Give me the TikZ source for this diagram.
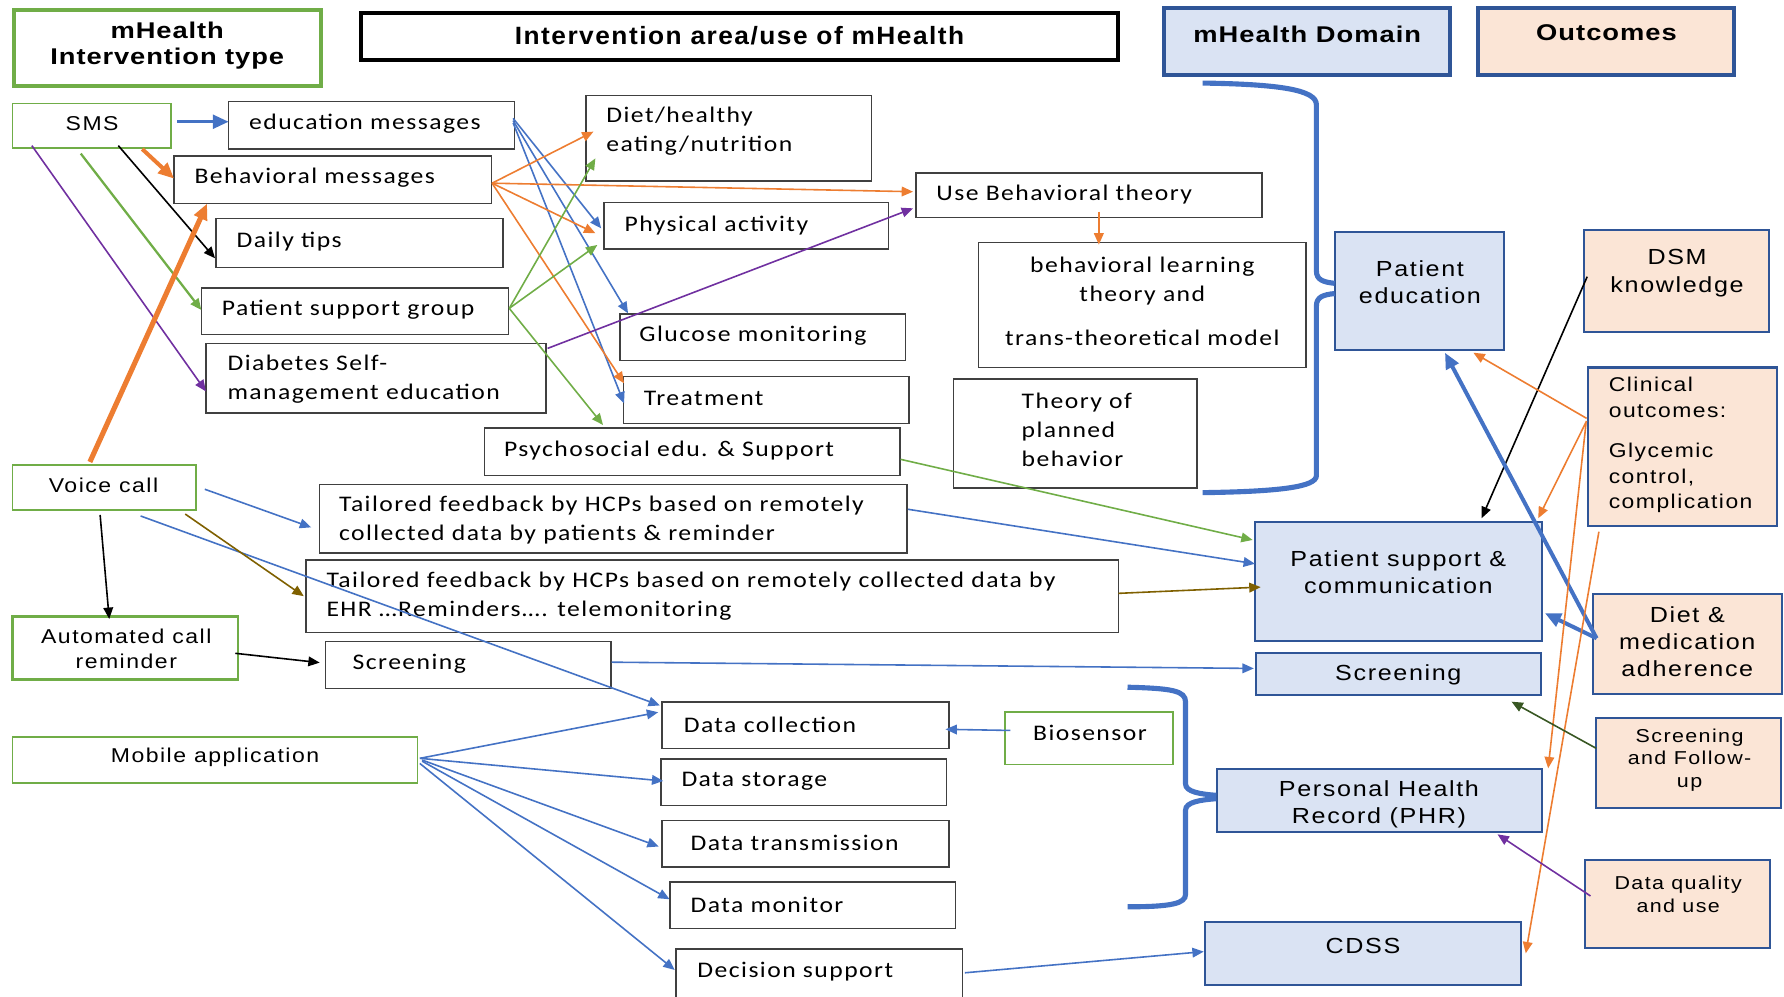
\documentclass[tikz,border=0pt]{standalone}
\usepackage{fontspec}
\usetikzlibrary{arrows.meta,calc}

% Text faces
\newfontfamily\fcal[FakeStretch=1.15,LetterSpace=6.5]{Carlito}
\newfontfamily\fari[FakeStretch=1.15,LetterSpace=7.5]{Liberation Sans}
\newfontfamily\fhdA[FakeStretch=1.2,LetterSpace=4]{Liberation Sans}
\newfontfamily\fhdB[FakeStretch=1.2,LetterSpace=4.5]{Liberation Sans}
\newfontfamily\fhdC[FakeStretch=1.05,LetterSpace=6]{Liberation Sans}

% Palette
\definecolor{cBlue}{HTML}{4472C4}
\definecolor{cOrange}{HTML}{ED7D31}
\definecolor{cGreen}{HTML}{70AD47}
\definecolor{cPurple}{HTML}{7030A0}
\definecolor{cBrown}{HTML}{7F6000}
\definecolor{cDGreen}{HTML}{385723}
\definecolor{cGray}{HTML}{404040}
\definecolor{cDBlue}{HTML}{2F5597}
\definecolor{cDomFill}{HTML}{DAE3F3}
\definecolor{cOutFill}{HTML}{FBE5D6}

% Box from its corners (x1,y1) and (x2,y2), y measured downwards
\newcommand\bx[6]{\node[#1,minimum width={#5pt-#3pt},minimum height={#6pt-#4pt}] (#2) at ({(#3+#5)/2},{(#4+#6)/2}) {};}

\tikzset{
  base/.style={inner sep=0pt,outer sep=0pt},
  midbox/.style={base,draw=cGray,line width=1.3pt,fill=white},
  typebox/.style={base,draw=cGreen,line width=1.5pt,fill=white},
  dombox/.style={base,draw=cDBlue,line width=1.8pt,fill=cDomFill},
  outbox/.style={base,draw=cDBlue,line width=1.8pt,fill=cOutFill},
  hdrgreen/.style={base,draw=cGreen,line width=3.5pt,fill=white},
  hdrblack/.style={base,draw=black,line width=3.5pt,fill=white},
  hdrdom/.style={base,draw=cDBlue,line width=3.5pt,fill=cDomFill},
  hdrout/.style={base,draw=cDBlue,line width=3.5pt,fill=cOutFill},
  tcal/.style={base,anchor=west,align=left,font=\fcal\fontsize{19.6}{25.5}\selectfont},
  tcalc/.style={base,align=center,font=\fcal\fontsize{19.6}{25.5}\selectfont},
  tleft/.style={base,align=center,font=\fari\fontsize{17.6}{22}\selectfont},
  tdom/.style={base,align=center,font=\fari\fontsize{19.2}{24}\selectfont},
  tsmall/.style={base,align=center,font=\fari\fontsize{16.4}{20}\selectfont},
  thA/.style={base,align=center,font=\fhdA\bfseries\fontsize{20}{23}\selectfont},
  thB/.style={base,align=center,font=\fhdB\bfseries\fontsize{20}{23}\selectfont},
  thC/.style={base,align=center,font=\fhdC\bfseries\fontsize{22}{26}\selectfont},
  ln/.style={line width=1.4pt,-{Triangle[length=10pt,width=8.5pt]}},
  lnthick/.style={-{Triangle[length=14pt,width=12pt]}},
  brace/.style={cBlue,line width=4.5pt},
}

\begin{document}
\begin{tikzpicture}[x=1pt,y=-1pt]
\useasboundingbox (0,0) rectangle (1568,876);

% ---------- column headers ----------
\bx{hdrgreen}{hType}{12}{9}{282}{76}
\bx{hdrblack}{hArea}{317}{11}{983}{53}
\bx{hdrdom}{hDom}{1023}{7}{1274}{66}
\bx{hdrout}{hOut}{1299}{7}{1524}{66}
\node[thA] (hType-t) at (147,40) {mHealth\\Intervention type};
\node[thC] (hArea-t) at (650,31) {Intervention area/use of mHealth};
\node[thB] (hDom-t) at (1149,30) {mHealth Domain};
\node[thB] (hOut-t) at (1412,29) {Outcomes};

% ---------- intervention types ----------
\bx{typebox}{sms}{11}{91}{150}{130}
\bx{typebox}{voice}{11}{409}{172}{448}
\bx{typebox,line width=2.2pt}{auto}{11}{542}{209}{597}
\bx{typebox}{mob}{11}{648}{367}{688}
\bx{typebox}{bio}{883}{626}{1031}{672}
\node[tleft] (sms-t) at (81,109) {SMS};
\node[tleft] (voice-t) at (91,427) {Voice call};
\node[tleft] (auto-t) at (111,570) {Automated call\\reminder};
\node[tleft] (mob-t) at (189,666) {Mobile application};
\node[tcalc] (bio-t) at (958,644) {Biosensor};

% ---------- intervention areas ----------
\bx{midbox}{edu}{201}{89}{452}{131}
\bx{midbox}{beh}{153}{137}{432}{179}
\bx{midbox}{tips}{190}{192}{442}{235}
\bx{midbox}{psg}{177}{253}{447}{294}
\bx{midbox}{dsme}{181}{302}{480}{363}
\bx{midbox}{diet}{515}{84}{766}{159}
\bx{midbox}{ubt}{805}{152}{1109}{191}
\bx{midbox}{pa}{531}{178}{781}{219}
\bx{midbox}{blt}{860}{213}{1148}{323}
\bx{midbox}{glu}{545}{276}{796}{317}
\bx{midbox}{tpb}{838}{333}{1052}{429}
\bx{midbox}{treat}{548}{331}{799}{372}
\bx{midbox}{psy}{426}{376}{791}{418}
\bx{midbox}{tf1}{281}{426}{797}{486}
\bx{midbox}{tf2}{269}{492}{983}{556}
\bx{midbox}{scr}{286}{564}{537}{605}
\bx{midbox}{dc}{582}{617}{834}{658}
\bx{midbox}{ds}{581}{667}{832}{708}
\bx{midbox}{dt}{582}{721}{834}{762}
\bx{midbox}{dm}{589}{775}{840}{816}
\bx{midbox}{dsup}{594}{834}{846}{878}

\node[tcal] (edu-t) at (219,109) {education messages};
\node[tcal] (beh-t) at (171,156) {Behavioral messages};
\node[tcal] (tips-t) at (208,212) {Daily tips};
\node[tcal] (psg-t) at (195,272) {Patient support group};
\node[tcal] (dsme-t) at (200,333) {Diabetes Self-\\management education};
\node[tcal] (diet-t) at (533,115) {Diet/healthy\\eating/nutrition};
\node[tcal] (ubt-t) at (823,171) {Use Behavioral theory};
\node[tcal] (pa-t) at (549,198) {Physical activity};
\node[tcalc] (blt-t) at (1004,265) {behavioral learning\\theory and\\[13pt]trans-theoretical model};
\node[tcal] (glu-t) at (562,295) {Glucose monitoring};
\node[tcal] (tpb-t) at (898,378) {Theory of\\planned\\behavior};
\node[tcal] (treat-t) at (566,350) {Treatment};
\node[tcal] (psy-t) at (443,396) {Psychosocial edu. \& Support};
\node[tcal] (tf1-t) at (298,457) {Tailored feedback by HCPs based on remotely\\collected data by patients \& reminder};
\node[tcal] (tf2-t) at (287,524) {Tailored feedback by HCPs based on remotely collected data by\\EHR …Reminders…. telemonitoring};
\node[tcal] (scr-t) at (310,583) {Screening};
\node[tcal] (dc-t) at (601,637) {Data collection};
\node[tcal] (ds-t) at (599,687) {Data storage};
\node[tcal] (dt-t) at (607,741) {Data transmission};
\node[tcal] (dm-t) at (607,795) {Data monitor};
\node[tcal] (dsup-t) at (613,854) {Decision support};

% ---------- mHealth domains ----------
\bx{dombox}{pe}{1173}{204}{1322}{308}
\bx{dombox}{psc}{1103}{459}{1355}{563}
\bx{dombox}{dscr}{1104}{574}{1354}{611}
\bx{dombox}{phr}{1070}{676}{1355}{731}
\bx{dombox}{cdss}{1059}{810}{1337}{866}
\node[tdom] (pe-t) at (1248,248) {Patient\\education};
\node[tdom] (psc-t) at (1229,503) {Patient support \&\\communication};
\node[tdom] (dscr-t) at (1229,593) {Screening};
\node[tdom] (phr-t) at (1212,707) {Personal Health\\Record (PHR)};
\node[tdom] (cdss-t) at (1198,831) {CDSS};

% ---------- outcomes ----------
\bx{outbox}{dsm}{1392}{202}{1555}{292}
\bx{outbox}{clin}{1396}{323}{1562}{462}
\bx{outbox}{dma}{1400}{522}{1566}{610}
\bx{outbox}{sfu}{1403}{631}{1565}{710}
\bx{outbox}{dq}{1393}{756}{1556}{833}
\node[tdom] (dsm-t) at (1474,240) {DSM\\knowledge};
\node[base,anchor=west,align=left,font=\fari\fontsize{17.5}{22}\selectfont] (clin-t) at (1414,391)
  {Clinical\\outcomes:\\[14pt]Glycemic\\control,\\complication};
\node[tdom] (dma-t) at (1483,564) {Diet \&\\medication\\adherence};
\node[tsmall] (sfu-t) at (1485,668) {Screening\\and Follow-\\up};
\node[tsmall] (dq-t) at (1475,786) {Data quality\\and use};

% ---------- connectors from SMS ----------
\draw[lnthick,cBlue,line width=3pt] ($(sms.north west)+(145,16)$) -- ($(edu.north west)+(0,18)$);
\draw[lnthick,cOrange,line width=3.5pt] ($(sms.north west)+(114,40)$) -- ($(beh.north west)+(0,20)$);
\draw[ln,black] ($(sms.north west)+(93,37)$) -- ($(tips.north west)+(-1,35)$);
\draw[ln,cGreen,line width=2pt] ($(sms.north west)+(60,44)$) -- ($(psg.north west)+(0,19.5)$);
\draw[ln,cPurple] ($(sms.north west)+(17,37)$) -- ($(dsme.north west)+(0,42)$);

% ---------- connectors from voice call ----------
\draw[lnthick,cOrange,line width=4.5pt] ($(voice.north west)+(68,-3)$) -- ($(beh.north west)+(29,42)$);
\draw[ln,cBlue] ($(voice.north west)+(169,21)$) -- ($(tf1.north west)+(-7.5,37.5)$);
\draw[ln,cBlue] ($(voice.north west)+(112.6,44.5)$) -- ($(dc.north west)+(-2,3)$);
\draw[ln,cBrown] ($(voice.north west)+(151.8,42.8)$) -- ($(tf2.north west)+(-2,32)$);
\draw[ln,black] ($(voice.north west)+(77,43.6)$) -- ($(auto.north west)+(85,2)$);
\draw[ln,black] ($(auto.north west)+(195.8,32.2)$) -- ($(scr.north west)+(-5,18.4)$);

% ---------- connectors from mobile application ----------
\draw[ln,cBlue] ($(mob.north west)+(358,18.5)$) -- ($(dc.north west)+(-3.5,9)$);
\draw[ln,cBlue] ($(mob.north west)+(358,18.5)$) -- ($(ds.north west)+(2,19.4)$);
\draw[ln,cBlue] ($(mob.north west)+(360,20)$) -- ($(dt.north west)+(-3,23)$);
\draw[ln,cBlue] ($(mob.north west)+(360,21)$) -- ($(dm.north west)+(-0.5,15.4)$);
\draw[ln,cBlue] ($(mob.north west)+(358,23)$) -- ($(dsup.north west)+(-1,18.5)$);
\draw[ln,cBlue] ($(bio.north west)+(5,16)$) -- ($(dc.north west)+(249,24)$);

% ---------- intervention areas to domains ----------
\draw[ln,cBlue] ($(dsup.north west)+(254,21)$) -- ($(cdss.north west)+(-1,26.4)$);
\draw[ln,cBlue] ($(scr.north west)+(251.5,18)$) -- ($(dscr.north west)+(-2,13.5)$);
\draw[ln,cBlue] ($(tf1.north west)+(517,21.6)$) -- ($(psc.north west)+(0,36.5)$);
\draw[ln,cBrown] ($(tf2.north west)+(714,29.5)$) -- ($(psc.north west)+(5,57)$);
\draw[ln,cGreen] ($(psy.north west)+(365.5,27.7)$) -- ($(psc.north west)+(-2,15.6)$);

% ---------- message types to topics ----------
\draw[ln,cBlue] ($(edu.north west)+(250,15)$) -- ($(pa.north west)+(-2.6,22.7)$);
\draw[ln,cBlue] ($(edu.north west)+(250,17)$) -- ($(glu.north west)+(7,-0.6)$);
\draw[ln,cBlue] ($(edu.north west)+(250,19)$) -- ($(treat.north west)+(0.5,23.5)$);
\draw[ln,cOrange] ($(beh.north west)+(279.5,24)$) -- ($(diet.north west)+(6.6,31.7)$);
\draw[ln,cOrange] ($(beh.north west)+(279.5,24)$) -- ($(ubt.north west)+(-2.5,16.5)$);
\draw[ln,cOrange] ($(beh.north west)+(279.5,24)$) -- ($(pa.north west)+(-7.7,27)$);
\draw[ln,cOrange] ($(beh.north west)+(279.5,24)$) -- ($(treat.north west)+(0.5,5.9)$);
\draw[ln,cGreen] ($(psg.north west)+(270.6,18)$) -- ($(diet.north west)+(8.3,55.2)$);
\draw[ln,cGreen] ($(psg.north west)+(270.6,18)$) -- ($(pa.north west)+(-6,37.3)$);
\draw[ln,cGreen] ($(psg.north west)+(270.6,18)$) -- ($(psy.north west)+(104,-2.5)$);
\draw[ln,cPurple] ($(dsme.north west)+(300.3,4.2)$) -- ($(ubt.north west)+(-2.5,31.1)$);
\draw[ln,cOrange] ($(ubt.north west)+(160.8,34)$) -- ($(blt.north west)+(105.8,2)$);

% ---------- outcomes to domains ----------
\draw[ln,black] ($(dsm.north west)+(3,41.2)$) -- ($(psc.north west)+(199.2,-3.5)$);
\draw[lnthick,cBlue,line width=3.5pt] ($(dma.north west)+(3.3,39)$) -- ($(pe.north west)+(97,106)$);
\draw[lnthick,cBlue,line width=3.5pt] ($(dma.north west)+(3.3,39)$) -- ($(psc.north west)+(254.9,80)$);
\draw[ln,cOrange] ($(clin.north west)+(-1.5,44.7)$) -- ($(pe.north west)+(122,106)$);
\draw[ln,cOrange] ($(clin.north west)+(-1.5,47)$) -- ($(psc.north west)+(249,-3.5)$);
\draw[ln,cOrange] ($(clin.north west)+(-2,49)$) -- ($(phr.north west)+(290.7,-0.7)$);
\draw[ln,cOrange] ($(clin.north west)+(9.3,144.3)$) -- ($(cdss.north west)+(282,27.9)$);
\draw[ln,cDGreen] ($(sfu.north west)+(-0.1,26.7)$) -- ($(dscr.north west)+(224.5,42.7)$);
\draw[ln,cPurple] ($(dq.north west)+(4.9,31.5)$) -- ($(phr.north west)+(246.2,57.3)$);

% ---------- braces grouping the domains ----------
\draw[brace] (1057,73) .. controls (1125,74) and (1157,79) .. (1157,92) -- (1157,238)
  .. controls (1157,246) and (1163,248) .. (1173,249);
\draw[brace] (1173,258) .. controls (1163,259) and (1157,261) .. (1157,269) -- (1157,418)
  .. controls (1157,428) and (1125,432) .. (1057,433);
\draw[brace] (991,604) .. controls (1030,605) and (1042,607) .. (1042,617) -- (1042,689)
  .. controls (1042,696) and (1055,698) .. (1069,699);
\draw[brace] (1069,702) .. controls (1055,703) and (1042,705) .. (1042,712) -- (1042,786)
  .. controls (1042,794) and (1030,797) .. (991,797);
\end{tikzpicture}
\end{document}
